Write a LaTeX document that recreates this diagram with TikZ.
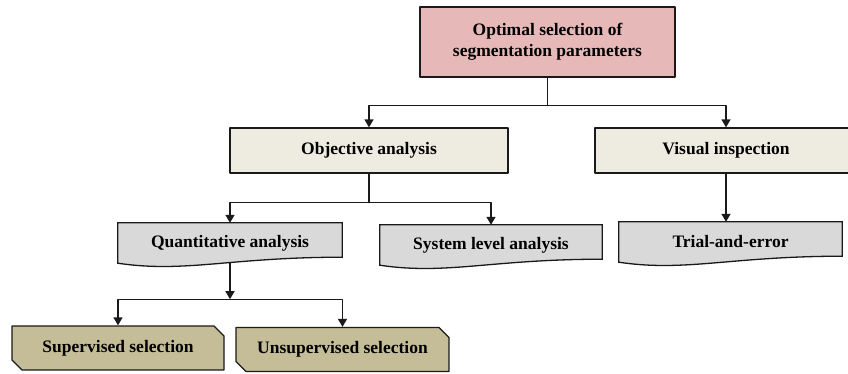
\documentclass[tikz,border=0pt]{standalone}
\usepackage{fontspec}
\setmainfont{Liberation Serif}
\usetikzlibrary{arrows.meta, calc, positioning, shapes.misc, backgrounds}
\definecolor{seg-ink}{HTML}{1A1A1A}
\definecolor{seg-rose}{HTML}{E6B9B8}
\definecolor{seg-paper}{HTML}{EEECE1}
\definecolor{seg-grey}{HTML}{D9D9D9}
\definecolor{seg-tan}{HTML}{C4BD97}

\begin{document}
\begin{tikzpicture}[x=1pt, y=-1pt, line cap=round, line join=round,
    >={Triangle[width=9pt,length=8pt]},
    every node/.style={font=\bfseries\fontsize{17.5}{21}\selectfont, inner sep=0pt, align=center},
    link/.style={draw=seg-ink, line width=1.3pt},
    mainbox/.style={draw=seg-ink, line width=1.3pt, fill=seg-rose, minimum width=255pt, minimum height=70pt},
    branchbox/.style={draw=seg-ink, line width=1.3pt, fill=seg-paper, minimum height=45pt},
    docbox/.style={minimum height=40pt},
    leafbox/.style={draw=seg-ink, line width=1.3pt, fill=seg-tan, chamfered rectangle,
      chamfered rectangle corners={north east, south west},
      chamfered rectangle xsep=5pt, chamfered rectangle ysep=5pt, minimum height=44pt}]
  \useasboundingbox (0,0) rectangle (848,373);
  % boxes
  \node[mainbox] (optsel) at (547.5,42) {Optimal selection of\\segmentation parameters};
  \node[branchbox, minimum width=278pt] (objana) at (369,150.5) {Objective analysis};
  \node[branchbox, minimum width=262pt] (visins) at (726,150.5) {Visual inspection};
  \node[docbox, minimum width=224pt] (quant) at (230,243) {Quantitative analysis};
  \node[docbox, minimum width=222pt] (syslev) at (491,245) {System level analysis};
  \node[docbox, minimum width=223pt] (trial) at (730.5,242) {Trial-and-error};
  \node[leafbox, minimum width=212pt] (supsel) at (118,348) {Supervised selection};
  \node[leafbox, minimum width=213pt] (unsupsel) at (342.5,349.5) {Unsupervised selection};
  % document shapes behind the text
  \begin{scope}[on background layer]
    \foreach \n in {quant, syslev, trial}{
      \draw[link, fill=seg-grey] (\n.north west) -- (\n.north east)
        -- ($(\n.south east)+(0,-6)$)
        .. controls ($(\n.south west)!0.5!(\n.south east)+(0,-6)$)
        and ($(\n.south west)!0.3!(\n.south east)+(0,10)$) .. (\n.south west) -- cycle;
    }
  \end{scope}
  % connectors
  \draw[link] (optsel.south) -- ++(0,28) coordinate (jtop);
  \draw[link, ->] (jtop) -| (objana.north);
  \draw[link, ->] (jtop) -| (visins.north);
  \draw[link] (objana.south) -- ++(0,29) coordinate (jobj);
  \draw[link, ->] (jobj) -| (quant.north);
  \draw[link, ->] (jobj) -| (syslev.north);
  \draw[link, ->] (visins.south) -- (visins.south |- trial.north);
  \draw[link, ->] (quant.south) -- ++(0,36) coordinate (jquant);
  \draw[link, ->] (jquant) -| (supsel.north);
  \draw[link, ->] (jquant) -| (unsupsel.north);
\end{tikzpicture}
\end{document}
